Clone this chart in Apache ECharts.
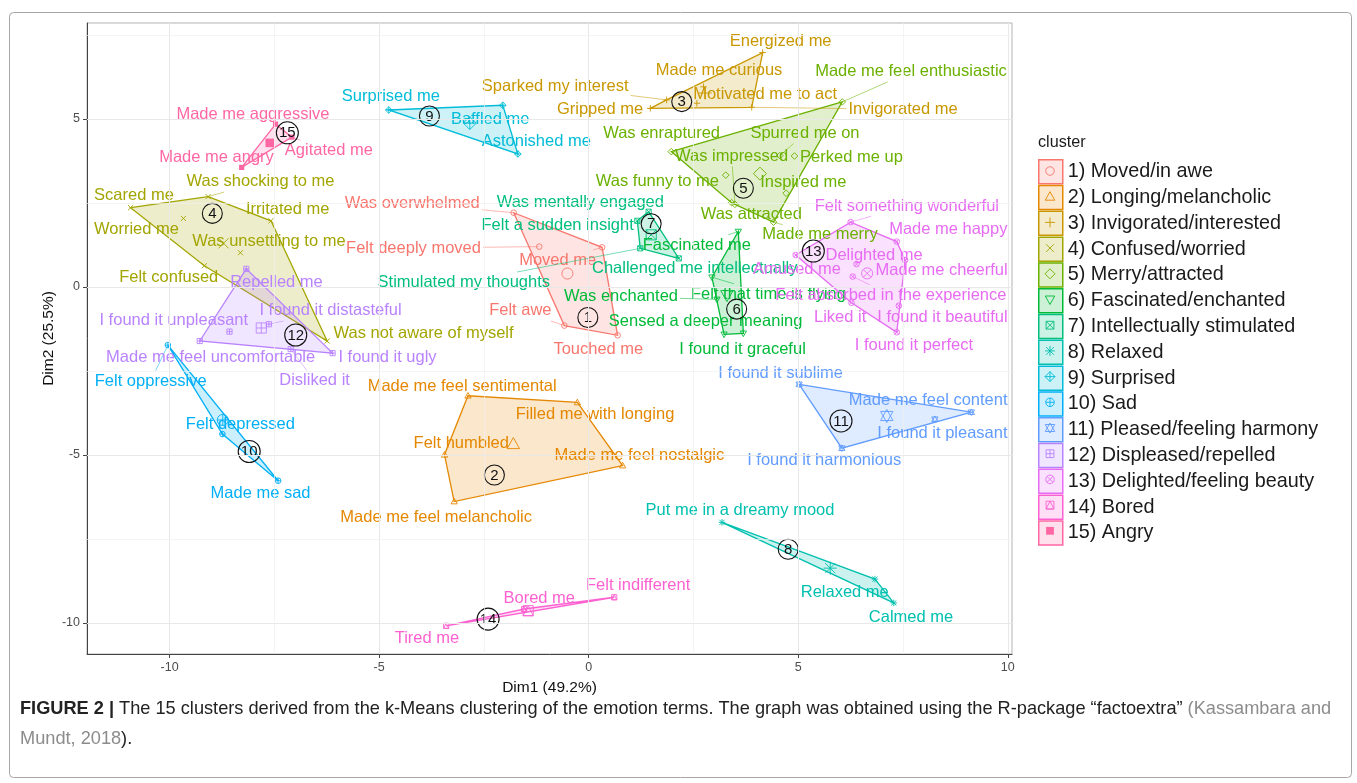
<!DOCTYPE html>
<html>
<head>
<meta charset="utf-8">
<title>k-Means clusters of emotion terms</title>
<script src="https://cdn.jsdelivr.net/npm/echarts@6/dist/echarts.min.js"></script>
<style>
html, body { margin: 0; padding: 0; background: #fff; }
#chart { width: 1357px; height: 783px; }
</style>
</head>
<body>
<div id="chart"></div>
<script>
// cluster legend names and ggplot hue colours
var clusterNames = ['1) Moved/in awe', '2) Longing/melancholic', '3) Invigorated/interested', '4) Confused/worried',
    '5) Merry/attracted', '6) Fascinated/enchanted', '7) Intellectually stimulated', '8) Relaxed', '9) Surprised',
    '10) Sad', '11) Pleased/feeling harmony', '12) Displeased/repelled', '13) Delighted/feeling beauty', '14) Bored', '15) Angry'];
var clusterColors = ['#F8766D', '#E58700', '#C99800', '#A3A500', '#6BB100', '#00BA38', '#00BF7D', '#00C0AF',
    '#00BCD8', '#00B0F6', '#619CFF', '#B983FF', '#E76BF3', '#FD61D1', '#FF67A4'];

// emotion terms, their cluster and PCA coordinates
var terms = ['Was overwhelmed', 'Felt deeply moved', 'Moved me', 'Felt awe', 'Touched me',
    'Made me feel sentimental', 'Filled me with longing', 'Felt humbled', 'Made me feel nostalgic', 'Made me feel melancholic',
    'Energized me', 'Made me curious', 'Sparked my interest', 'Gripped me', 'Motivated me to act', 'Invigorated me',
    'Scared me', 'Was shocking to me', 'Irritated me', 'Worried me', 'Was unsettling to me', 'Felt confused', 'Was not aware of myself',
    'Made me feel enthusiastic', 'Was enraptured', 'Spurred me on', 'Was impressed', 'Perked me up', 'Was funny to me', 'Inspired me', 'Was attracted', 'Made me merry',
    'Fascinated me', 'Felt that time is flying', 'Was enchanted', 'Sensed a deeper meaning', 'I found it graceful',
    'Was mentally engaged', 'Felt a sudden insight', 'Challenged me intellectually', 'Stimulated my thoughts',
    'Put me in a dreamy mood', 'Relaxed me', 'Calmed me',
    'Surprised me', 'Baffled me', 'Astonished me',
    'Felt oppressive', 'Felt depressed', 'Made me sad',
    'I found it sublime', 'Made me feel content', 'I found it pleasant', 'I found it harmonious',
    'Repelled me', 'I found it distasteful', 'I found it unpleasant', 'Made me feel uncomfortable', 'I found it ugly', 'Disliked it',
    'Felt something wonderful', 'Made me happy', 'Delighted me', 'Amused me', 'Made me cheerful', 'Felt absorbed in the experience', 'Liked it', 'I found it beautiful', 'I found it perfect',
    'Tired me', 'Bored me', 'Felt indifferent',
    'Made me aggressive', 'Made me angry', 'Agitated me'];
var termCluster = [1, 1, 1, 1, 1, 2, 2, 2, 2, 2, 3, 3, 3, 3, 3, 3, 4, 4, 4, 4, 4, 4, 4,
    5, 5, 5, 5, 5, 5, 5, 5, 5, 6, 6, 6, 6, 6, 7, 7, 7, 7, 8, 8, 8, 9, 9, 9, 10, 10, 10,
    11, 11, 11, 11, 12, 12, 12, 12, 12, 12, 13, 13, 13, 13, 13, 13, 13, 13, 13, 14, 14, 14, 15, 15, 15];
var dim1 = [-1.79, -1.18, 0.32, -0.58, 0.69,
    -2.88, -0.27, -3.44, 0.81, -3.21,
    4.15, 2.74, 1.86, 1.47, 2.58, 3.89,
    -10.93, -9.08, -7.58, -9.67, -8.31, -9.17, -6.24,
    6.05, 1.97, 4.56, 3.49, 4.91, 3.27, 4.71, 3.41, 4.41,
    3.57, 2.94, 3.06, 3.69, 3.23,
    1.43, 1.16, 2.15, 1.23,
    3.18, 6.83, 7.28,
    -4.77, -2.05, -1.69,
    -10.04, -8.74, -7.41,
    5.02, 9.13, 8.26, 6.04,
    -8.17, -7.63, -8.57, -9.28, -6.11, -7.11,
    6.25, 7.35, 6.39, 4.94, 7.55, 6.30, 6.27, 7.40, 7.35,
    -3.40, -1.54, 0.61,
    -7.47, -8.28, -7.08];
var dim2 = [2.21, 1.20, 1.18, -1.15, -1.44,
    -3.24, -3.44, -5.00, -5.32, -6.39,
    6.98, 5.96, 5.57, 5.32, 5.47, 5.35,
    2.36, 2.69, 1.97, 2.04, 1.02, 0.63, -1.61,
    5.51, 4.03, 3.91, 2.46, 3.90, 3.33, 2.79, 2.51, 1.93,
    1.65, 0.29, -0.37, -1.38, -1.41,
    2.24, 1.97, 0.85, 1.15,
    -7.01, -8.70, -9.41,
    5.27, 5.41, 3.96,
    -1.73, -4.38, -5.77,
    -2.90, -3.73, -3.94, -4.80,
    0.54, -1.11, -1.33, -1.61, -1.97, -1.85,
    1.93, 1.35, 0.68, 0.95, 0.80, 0.31, -0.47, -0.56, -1.35,
    -10.09, -9.59, -9.24,
    4.85, 3.56, 4.46];

// where the repelled text labels ended up (label centre, in axis units)
var labelDim1 = [-4.21, -4.18, -0.74, -1.63, 0.23,
    -3.02, 0.15, -3.04, 1.21, -3.64,
    4.58, 3.11, -0.80, 0.27, 4.21, 7.50,
    -10.85, -7.83, -7.18, -10.79, -7.63, -10.02, -3.94,
    7.69, 1.74, 5.16, 3.41, 6.27, 1.64, 5.12, 3.88, 5.52,
    2.58, 4.29, 0.77, 2.79, 3.67,
    -0.20, -0.74, 2.53, -2.98,
    3.61, 6.11, 7.69,
    -4.72, -2.35, -1.25,
    -10.45, -8.31, -7.83,
    4.58, 8.10, 8.44, 5.62,
    -7.45, -6.16, -9.90, -9.02, -4.80, -6.54,
    7.59, 8.58, 6.81, 4.97, 8.42, 7.21, 6.00, 8.44, 7.76,
    -3.86, -1.18, 1.18,
    -8.01, -8.88, -6.20];
var labelDim2 = [2.49, 1.16, 0.80, -0.71, -1.85,
    -2.95, -3.81, -4.67, -5.03, -6.85,
    7.30, 6.44, 5.98, 5.29, 5.72, 5.29,
    2.72, 3.13, 2.30, 1.70, 1.35, 0.28, -1.38,
    6.41, 4.57, 4.57, 3.90, 3.85, 3.15, 3.12, 2.16, 1.55,
    1.25, -0.21, -0.29, -1.03, -1.85,
    2.51, 1.82, 0.56, 0.14,
    -6.67, -9.10, -9.83,
    5.68, 4.99, 4.32,
    -2.80, -4.08, -6.16,
    -2.57, -3.38, -4.35, -5.18,
    0.13, -0.71, -1.00, -2.09, -2.09, -2.79,
    2.41, 1.70, 0.95, 0.51, 0.48, -0.24, -0.91, -0.91, -1.73,
    -10.46, -9.29, -8.90,
    5.15, 3.86, 4.06];

// circled cluster numbers
var tagDim1 = [-0.02, -2.25, 2.22, -8.98, 3.69, 3.53, 1.49, 4.76, -3.80, -8.10, 6.02, -6.99, 5.36, -2.40, -7.19];
var tagDim2 = [-0.91, -5.60, 5.52, 2.19, 2.94, -0.66, 1.88, -7.81, 5.09, -4.90, -3.99, -1.43, 1.07, -9.89, 4.59];

// axis ticks and grid
var tickValues = [-10, -5, 0, 5, 10];
var minorX = [-7.5, -2.5, 2.5, 7.5];
var minorY = [-7.5, -2.5, 2.5, 7.5];

var FONT = '"Liberation Sans", Arial, Helvetica, sans-serif';
var LABEL_SIZE = 16.5;

// legend box layout (rows come out 25.7px apart)
var LEGEND_LEFT = 1033, LEGEND_TOP = 154, LEGEND_KEY = 24, LEGEND_GAP = 0.3, LEGEND_PITCH = 25.7;

var measureCtx = document.createElement('canvas').getContext('2d');
measureCtx.font = LABEL_SIZE + 'px ' + FONT;

function rgba(hex, a) {
    var n = parseInt(hex.slice(1), 16);
    return 'rgba(' + (n >> 16) + ',' + ((n >> 8) & 255) + ',' + (n & 255) + ',' + a + ')';
}

function indicesOf(k) {
    var out = [];
    for (var i = 0; i < terms.length; i++) {
        if (termCluster[i] === k) out.push(i);
    }
    return out;
}

// monotone chain convex hull on pixel points
function convexHull(pts) {
    var p = pts.slice().sort(function (a, b) { return a[0] - b[0] || a[1] - b[1]; });
    function cross(o, a, b) { return (a[0] - o[0]) * (b[1] - o[1]) - (a[1] - o[1]) * (b[0] - o[0]); }
    var lower = [], upper = [];
    p.forEach(function (q) {
        while (lower.length >= 2 && cross(lower[lower.length - 2], lower[lower.length - 1], q) <= 0) lower.pop();
        lower.push(q);
    });
    for (var i = p.length - 1; i >= 0; i--) {
        while (upper.length >= 2 && cross(upper[upper.length - 2], upper[upper.length - 1], p[i]) <= 0) upper.pop();
        upper.push(p[i]);
    }
    lower.pop(); upper.pop();
    return lower.concat(upper);
}

// ggplot shapes 1..15 drawn with zrender primitives
function shapeEls(k, x, y, s, color) {
    function st() { return { fill: 'none', stroke: color, lineWidth: 0.9 }; }
    function line(x1, y1, x2, y2) { return { type: 'line', shape: { x1: x1, y1: y1, x2: x2, y2: y2 }, style: st() }; }
    function poly(pts) { return { type: 'polygon', shape: { points: pts }, style: st() }; }
    function circ(r) { return { type: 'circle', shape: { cx: x, cy: y, r: r }, style: st() }; }
    var a = s * 0.78;
    var tri = function () { return poly([[x, y - s], [x + s * 0.95, y + s * 0.7], [x - s * 0.95, y + s * 0.7]]); };
    var triDown = function () { return poly([[x, y + s], [x + s * 0.95, y - s * 0.7], [x - s * 0.95, y - s * 0.7]]); };
    var plus = function (r) { return [line(x - r, y, x + r, y), line(x, y - r, x, y + r)]; };
    var cross = function (r) { return [line(x - r, y - r, x + r, y + r), line(x - r, y + r, x + r, y - r)]; };
    var sq = function () { return poly([[x - a, y - a], [x + a, y - a], [x + a, y + a], [x - a, y + a]]); };
    var dia = function () { return poly([[x, y - s], [x + s, y], [x, y + s], [x - s, y]]); };
    switch (k) {
        case 1: return [circ(s * 0.85)];
        case 2: return [tri()];
        case 3: return plus(s);
        case 4: return cross(a);
        case 5: return [dia()];
        case 6: return [triDown()];
        case 7: return [sq()].concat(cross(a));
        case 8: return plus(s).concat(cross(a));
        case 9: return [dia()].concat(plus(s));
        case 10: return [circ(s * 0.85)].concat(plus(s * 0.85));
        case 11: return [tri(), triDown()];
        case 12: return [sq()].concat(plus(a));
        case 13: return [circ(s * 0.85)].concat(cross(s * 0.6));
        case 14: return [sq(), poly([[x, y - a], [x + a, y + a], [x - a, y + a]])];
        default: return [{ type: 'rect', shape: { x: x - a, y: y - a, width: 2 * a, height: 2 * a }, style: { fill: color } }];
    }
}

var series = [];

// grid lines sit under everything
var gridLines = [];
tickValues.forEach(function (v) { gridLines.push({ xAxis: v }); gridLines.push({ yAxis: v }); });
minorX.forEach(function (v) { gridLines.push({ xAxis: v, lineStyle: { width: 0.7, color: '#efefef' } }); });
minorY.forEach(function (v) { gridLines.push({ yAxis: v, lineStyle: { width: 0.7, color: '#efefef' } }); });
series.push({
    type: 'scatter', name: 'grid', z: 0, silent: true, symbolSize: 0,
    data: [[0, 0]],
    markLine: {
        silent: true, symbol: 'none', animation: false,
        label: { show: false },
        lineStyle: { color: '#e8e8e8', width: 1, type: 'solid' },
        data: gridLines
    }
});

for (var k = 1; k <= 15; k++) {
    (function (k) {
        var idx = indicesOf(k);
        var color = clusterColors[k - 1];
        var cx = 0, cy = 0;
        idx.forEach(function (i) { cx += dim1[i]; cy += dim2[i]; });
        cx /= idx.length; cy /= idx.length;

        // convex hull of the cluster
        series.push({
            type: 'custom', name: clusterNames[k - 1], z: 1, silent: true,
            itemStyle: { color: color },
            data: [[cx, cy]],
            renderItem: function (params, api) {
                var pts = idx.map(function (i) { return api.coord([dim1[i], dim2[i]]); });
                return {
                    type: 'polygon', shape: { points: convexHull(pts) },
                    style: { fill: rgba(color, 0.2), stroke: color, lineWidth: 1.3 }
                };
            }
        });

        // points and the larger centre symbol
        series.push({
            type: 'custom', name: clusterNames[k - 1], z: 2, silent: true,
            itemStyle: { color: color },
            data: idx.map(function (i) { return [dim1[i], dim2[i], 0]; }).concat([[cx, cy, 1]]),
            renderItem: function (params, api) {
                var p = api.coord([api.value(0), api.value(1)]);
                var big = api.value(2) === 1;
                var s = big ? (k === 15 ? 5.5 : 6.5) : 3.3;
                return { type: 'group', children: shapeEls(k, p[0], p[1], s, color) };
            }
        });

        // text labels with repel segments
        series.push({
            type: 'custom', name: clusterNames[k - 1], z: 3, silent: true,
            itemStyle: { color: color },
            data: idx.map(function (i) { return [dim1[i], dim2[i], labelDim1[i], labelDim2[i], i]; }),
            renderItem: function (params, api) {
                var i = api.value(4);
                var p = api.coord([api.value(0), api.value(1)]);
                var c = api.coord([api.value(2), api.value(3)]);
                var w = measureCtx.measureText(terms[i]).width;
                var hw = w / 2 + 2, hh = LABEL_SIZE / 2 + 2;
                var children = [];
                var inside = Math.abs(p[0] - c[0]) <= hw && Math.abs(p[1] - c[1]) <= hh;
                if (!inside) {
                    var dx = c[0] - p[0], dy = c[1] - p[1];
                    var tx = dx !== 0 ? ((dx > 0 ? c[0] - hw : c[0] + hw) - p[0]) / dx : -Infinity;
                    var ty = dy !== 0 ? ((dy > 0 ? c[1] - hh : c[1] + hh) - p[1]) / dy : -Infinity;
                    var t = Math.max(tx, ty);
                    var ex = p[0] + t * dx, ey = p[1] + t * dy;
                    if (Math.sqrt((ex - p[0]) * (ex - p[0]) + (ey - p[1]) * (ey - p[1])) > 9) {
                        children.push({
                            type: 'line', shape: { x1: p[0], y1: p[1], x2: ex, y2: ey },
                            style: { stroke: color, lineWidth: 0.7, opacity: 0.75 }
                        });
                    }
                }
                children.push({
                    type: 'text', x: c[0], y: c[1],
                    style: {
                        text: terms[i], fill: color, font: LABEL_SIZE + 'px ' + FONT,
                        align: 'center', verticalAlign: 'middle'
                    }
                });
                return { type: 'group', children: children };
            }
        });
    })(k);
}

// circled cluster numbers
series.push({
    type: 'custom', name: 'tags', z: 4, silent: true,
    data: tagDim1.map(function (v, j) { return [v, tagDim2[j], j + 1]; }),
    renderItem: function (params, api) {
        var p = api.coord([api.value(0), api.value(1)]);
        var n = api.value(2);
        return {
            type: 'group', children: [
                { type: 'circle', shape: { cx: p[0], cy: p[1], r: n > 9 ? 11 : 10 }, style: { fill: 'none', stroke: '#111', lineWidth: 1.1 } },
                { type: 'text', x: p[0], y: p[1] + 0.5, style: { text: String(n), fill: '#111', font: '15px ' + FONT, align: 'center', verticalAlign: 'middle' } }
            ]
        };
    }
});

var legendData = clusterNames.map(function (name, j) {
    return {
        name: name, icon: 'rect',
        itemStyle: { color: rgba(clusterColors[j], 0.2), borderColor: clusterColors[j], borderWidth: 1.5 }
    };
});

// small cluster symbol inside each legend key
var legendSymbols = clusterNames.map(function (name, j) {
    var x = LEGEND_LEFT + 5 + LEGEND_KEY / 2;
    var y = LEGEND_TOP + 5 + LEGEND_KEY / 2 + j * LEGEND_PITCH;
    return { type: 'group', silent: true, z: 100, children: shapeEls(j + 1, x, y, 5, clusterColors[j]) };
});

var option = {
    animation: false,
    backgroundColor: '#fff',
    textStyle: { fontFamily: FONT },
    grid: { left: 87, right: 345, top: 23, bottom: 129, show: true, borderColor: '#b3b3b3', borderWidth: 1, backgroundColor: '#fff' },
    xAxis: {
        type: 'value', min: -11.97, max: 10.1,
        name: 'Dim1 (49.2%)', nameLocation: 'middle', nameGap: 26,
        nameTextStyle: { fontSize: 15.5, color: '#111', fontFamily: FONT },
        axisLine: { show: true, onZero: false, lineStyle: { color: '#444', width: 1 } },
        axisTick: { show: true, length: 4, customValues: tickValues, lineStyle: { color: '#444' } },
        axisLabel: { customValues: tickValues, margin: 7, fontSize: 12.5, color: '#4d4d4d', fontFamily: FONT },
        splitLine: { show: false }
    },
    yAxis: {
        type: 'value', min: -10.93, max: 7.86,
        name: 'Dim2 (25.5%)', nameLocation: 'middle', nameGap: 30, nameRotate: 90, nameMoveOverlap: false,
        nameTextStyle: { fontSize: 15.5, color: '#111', fontFamily: FONT },
        axisLine: { show: true, onZero: false, lineStyle: { color: '#444', width: 1 } },
        axisTick: { show: true, length: 4, customValues: tickValues, lineStyle: { color: '#444' } },
        axisLabel: { customValues: tickValues, margin: 7, fontSize: 12.5, color: '#4d4d4d', fontFamily: FONT },
        splitLine: { show: false }
    },
    legend: {
        orient: 'vertical', left: LEGEND_LEFT, top: LEGEND_TOP,
        itemWidth: LEGEND_KEY, itemHeight: LEGEND_KEY, itemGap: LEGEND_GAP,
        selectedMode: false,
        textStyle: { fontSize: 19.8, color: '#1a1a1a', fontFamily: FONT, lineHeight: 20 },
        data: legendData
    },
    graphic: [
        { type: 'rect', left: 7, top: 10, shape: { width: 1342, height: 765, r: 4 }, style: { fill: 'none', stroke: '#a6a6a6', lineWidth: 1 }, silent: true },
        { type: 'text', left: 1038, top: 135, style: { text: 'cluster', font: '16.2px ' + FONT, fill: '#1a1a1a' } },
        {
            type: 'text', left: 20, top: 700,
            style: {
                text: '{b|FIGURE 2 |} The 15 clusters derived from the k-Means clustering of the emotion terms. The graph was obtained using the R-package \u201cfactoextra\u201d {g|(Kassambara and}',
                font: '18.2px ' + FONT, fill: '#222',
                rich: {
                    b: { fontWeight: 'bold', fontSize: 18.2, fontFamily: FONT, fill: '#222' },
                    g: { fontSize: 18.2, fontFamily: FONT, fill: '#8c8c8c' }
                }
            }
        },
        {
            type: 'text', left: 20, top: 730,
            style: {
                text: '{g|Mundt, 2018}).',
                font: '18.2px ' + FONT, fill: '#222',
                rich: { g: { fontSize: 18.2, fontFamily: FONT, fill: '#8c8c8c' } }
            }
        }
    ].concat(legendSymbols),
    series: series
};

var chart = echarts.init(document.getElementById('chart'), null, { renderer: 'canvas' });
chart.setOption(option);
</script>
</body>
</html>
